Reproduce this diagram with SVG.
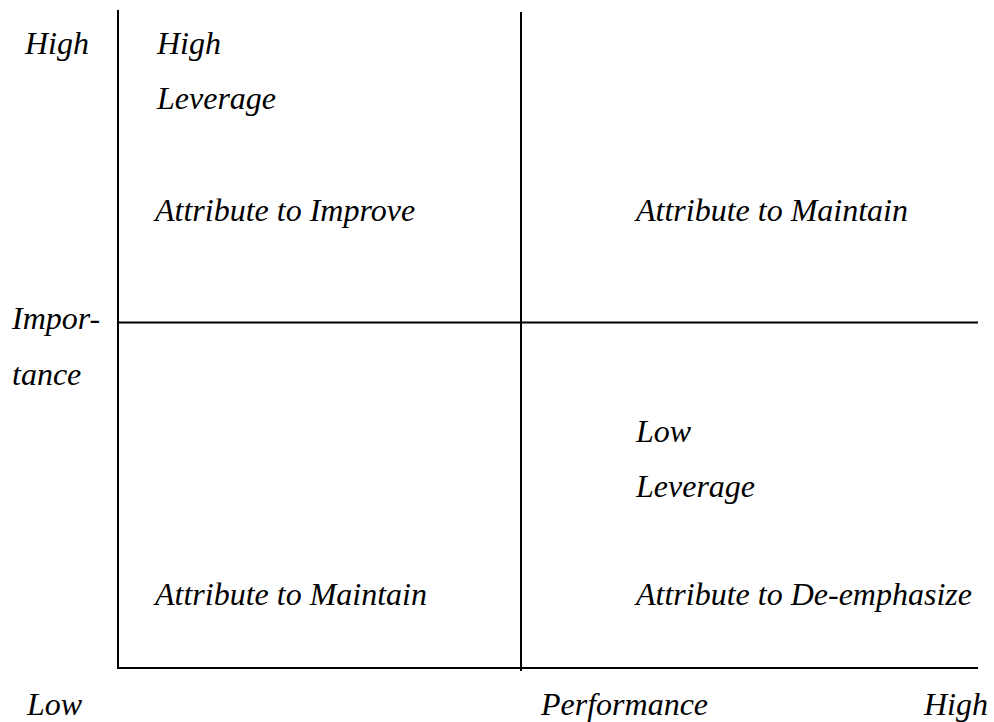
<svg xmlns="http://www.w3.org/2000/svg" width="994" height="722" viewBox="0 0 994 722">
  <style>
    text { font-family: "Liberation Serif", "Times New Roman", serif; font-style: italic; font-size: 32px; fill: #000; }
    .axis { stroke: #000; stroke-width: 2; fill: none; }
  </style>
  <rect width="994" height="722" fill="#fff"/>

  <!-- axes and quadrant dividers -->
  <g id="axes">
    <line class="axis" x1="118" y1="10" x2="118" y2="668"/>
    <line class="axis" x1="117" y1="668" x2="978" y2="668"/>
    <line class="axis" x1="521" y1="12" x2="521" y2="671"/>
    <line class="axis" x1="119" y1="322.5" x2="978" y2="322.5"/>
  </g>

  <!-- axis labels -->
  <g id="y-axis-labels">
    <text x="25" y="54">High</text>
    <text x="12" y="329">Impor-</text>
    <text x="12" y="385">tance</text>
  </g>
  <g id="x-axis-labels">
    <text x="27" y="715">Low</text>
    <text x="541" y="715">Performance</text>
    <text x="924" y="715">High</text>
  </g>

  <!-- quadrants -->
  <g id="q-improve">
    <text x="157" y="54">High</text>
    <text x="157" y="109">Leverage</text>
    <text x="155" y="221">Attribute to Improve</text>
  </g>
  <g id="q-maintain-high">
    <text x="636" y="221">Attribute to Maintain</text>
  </g>
  <g id="q-maintain-low">
    <text x="155" y="605">Attribute to Maintain</text>
  </g>
  <g id="q-deemphasize">
    <text x="636" y="442">Low</text>
    <text x="636" y="497">Leverage</text>
    <text x="636" y="605">Attribute to De-emphasize</text>
  </g>
</svg>
